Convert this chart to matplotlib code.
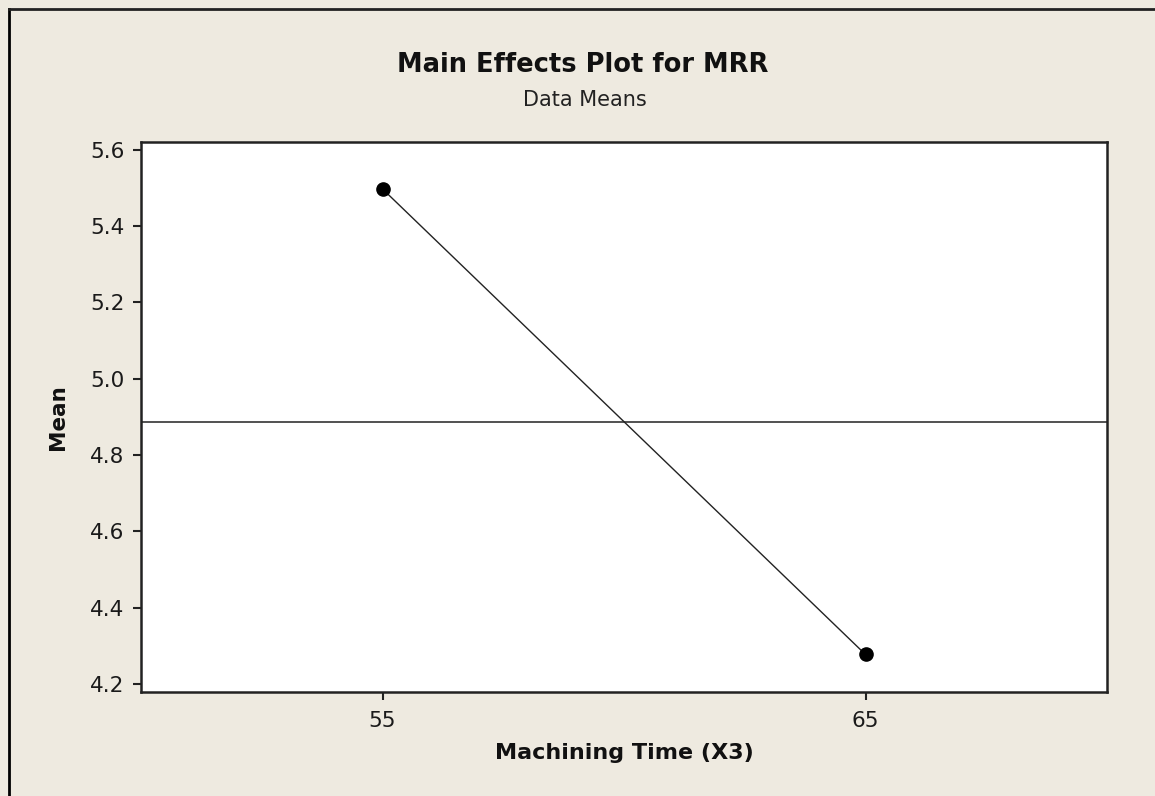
import matplotlib
matplotlib.use("Agg")
import matplotlib.pyplot as plt
from matplotlib.lines import Line2D

# Data
levels = [55, 65]
means = [5.497, 4.277]
grand_mean = 4.887
yticks = [4.2, 4.4, 4.6, 4.8, 5.0, 5.2, 5.4, 5.6]

W, H = 1155, 796
bg = "#EEEAE0"
fig = plt.figure(figsize=(W / 100, H / 100), dpi=100, facecolor=bg)
ax = fig.add_axes([141 / W, 1 - 691.5 / H, (1107 - 141) / W, (691.5 - 142) / H])
ax.set_facecolor("white")

ax.plot(levels, means, color="#222222", lw=1.0, marker="o", ms=9.5,
        mfc="black", mec="black", zorder=3)
ax.axhline(grand_mean, color="#333333", lw=1.2, zorder=2)

ax.set_xlim(50, 70)
ax.set_ylim(4.18, 5.62)
ax.set_xticks(levels)
ax.set_xticklabels([str(v) for v in levels])
ax.set_yticks(yticks)
ax.set_yticklabels([f"{v:.1f}" for v in yticks])

for s in ax.spines.values():
    s.set_linewidth(1.8)
    s.set_color("#222222")
ax.tick_params(axis="both", direction="out", length=6, width=1.5,
               labelsize=15.5, color="#222222", labelcolor="#1a1a1a")
ax.tick_params(axis="x", pad=8)
ax.tick_params(axis="y", pad=6)

ax.set_xlabel("Machining Time (X3)", fontsize=16, fontweight="bold",
              labelpad=9, color="#111111")
ax.set_ylabel("Mean", fontsize=15.5, fontweight="bold", labelpad=16,
              color="#111111")

fig.text(583 / W, 1 - 65 / H, "Main Effects Plot for MRR", ha="center",
         va="center", fontsize=18.5, fontweight="bold", color="#111111")
fig.text(585 / W, 1 - 100 / H, "Data Means", ha="center", va="center",
         fontsize=15, color="#222222")

# Outer frame lines (left and top)
fig.add_artist(Line2D([9 / W, 9 / W], [0, 1 - 9 / H], transform=fig.transFigure,
                      color="black", lw=2))
fig.add_artist(Line2D([9 / W, 1], [1 - 9 / H, 1 - 9 / H], transform=fig.transFigure,
                      color="#222222", lw=2))

fig.savefig("out.png", dpi=100, facecolor=bg)
